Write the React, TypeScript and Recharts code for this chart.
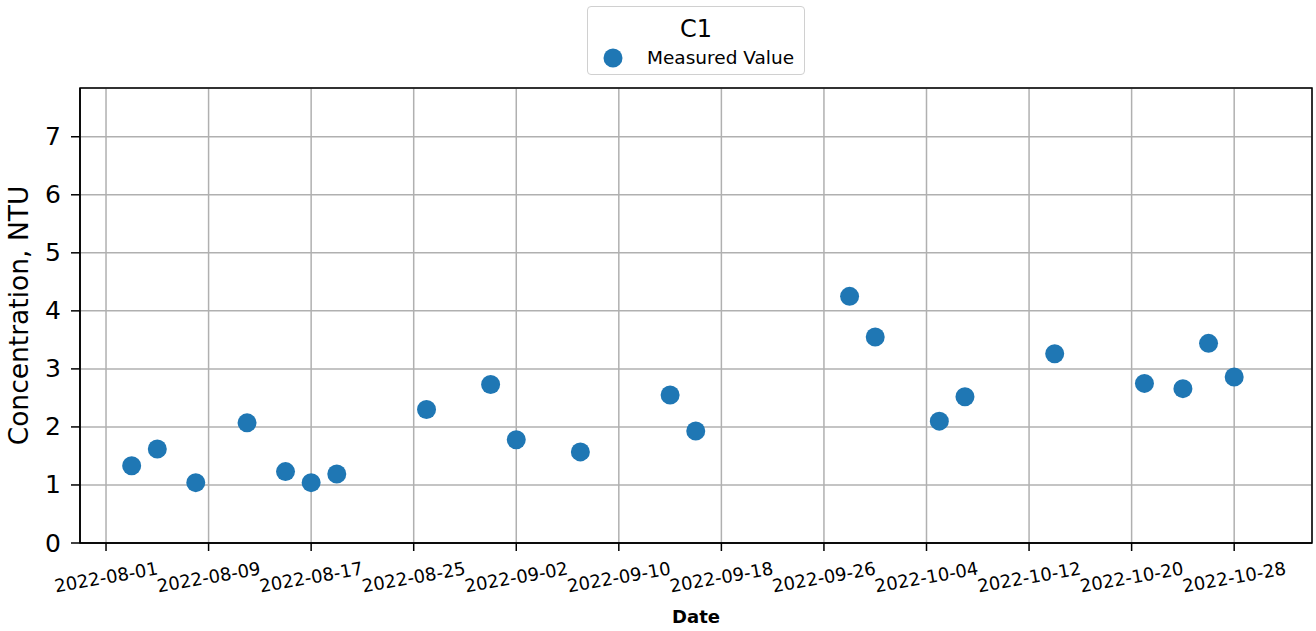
import React from 'react';
import {
  ScatterChart,
  Scatter,
  XAxis,
  YAxis,
  CartesianGrid,
  ReferenceArea,
} from 'recharts';

const sampleDates = [
  '2022-08-03', '2022-08-05', '2022-08-08', '2022-08-12', '2022-08-15', '2022-08-17',
  '2022-08-19', '2022-08-26', '2022-08-31', '2022-09-02', '2022-09-07', '2022-09-14',
  '2022-09-16', '2022-09-28', '2022-09-30', '2022-10-05', '2022-10-07', '2022-10-14',
  '2022-10-21', '2022-10-24', '2022-10-26', '2022-10-28',
];

const measuredValues = [
  1.33, 1.62, 1.04, 2.07, 1.23, 1.04,
  1.19, 2.30, 2.73, 1.78, 1.57, 2.55,
  1.93, 4.25, 3.55, 2.10, 2.52, 3.26,
  2.75, 2.66, 3.44, 2.86,
];

const xTickLabels = [
  '2022-08-01', '2022-08-09', '2022-08-17', '2022-08-25', '2022-09-02', '2022-09-10',
  '2022-09-18', '2022-09-26', '2022-10-04', '2022-10-12', '2022-10-20', '2022-10-28',
];

const yTicks = [0, 1, 2, 3, 4, 5, 6, 7];

const DAY = 86400000;
const toMs = (s: string) => Date.parse(s + 'T00:00:00Z');
const fmt = (ms: number) => new Date(ms).toISOString().slice(0, 10);

const data = sampleDates.map((d, i) => ({ t: toMs(d), v: measuredValues[i] }));
const xTicks = xTickLabels.map(toMs);
const xDomain = [toMs('2022-08-01') - 2.03 * DAY, toMs('2022-08-01') + 94.07 * DAY];
const yDomain = [0, 7.84];

const FONT = '"DejaVu Sans", sans-serif';
const BLUE = '#1f77b4';

const XTick = (props: any) => {
  const { x, y, payload } = props;
  const cx = x;
  const cy = y + 24;
  return (
    <text
      x={cx}
      y={cy}
      textAnchor="middle"
      dominantBaseline="central"
      fontSize={18}
      fontFamily={FONT}
      fill="#000"
      transform={`rotate(-10, ${cx}, ${cy})`}
    >
      {fmt(payload.value)}
    </text>
  );
};

const YTick = (props: any) => {
  const { x, y, payload } = props;
  return (
    <text x={x} y={y} textAnchor="end" dominantBaseline="central" fontSize={25} fontFamily={FONT} fill="#000">
      {payload.value}
    </text>
  );
};

const YLabel = (props: any) => {
  const { viewBox } = props;
  const cy = viewBox.y + viewBox.height / 2;
  return (
    <text
      x={18}
      y={cy}
      textAnchor="middle"
      dominantBaseline="central"
      fontSize={26.5}
      fontFamily={FONT}
      fill="#000"
      transform={`rotate(-90, 18, ${cy})`}
    >
      Concentration, NTU
    </text>
  );
};

const LegendBox = () => (
  <div
    style={{
      position: 'absolute',
      left: 587,
      top: 6,
      width: 218,
      height: 69,
      border: '1.5px solid #d0d0d0',
      borderRadius: 4,
      boxSizing: 'border-box',
      fontFamily: FONT,
      background: '#fff',
    }}
  >
    <div style={{ position: 'absolute', top: 7, left: 0, width: '100%', textAlign: 'center', fontSize: 24, lineHeight: '30px' }}>C1</div>
    <svg width={22} height={22} style={{ position: 'absolute', left: 14, top: 40 }}>
      <circle cx={11} cy={11} r={9.5} fill={BLUE} />
    </svg>
    <div style={{ position: 'absolute', left: 59, top: 39, fontSize: 18.5, lineHeight: '24px' }}>Measured Value</div>
  </div>
);

export default function App() {
  return (
    <div style={{ position: 'absolute', left: 0, top: 0, width: 1316, height: 631, background: '#fff' }}>
      <ScatterChart width={1316} height={631} margin={{ top: 88, right: 4, bottom: 0, left: 0 }}>
        <CartesianGrid xAxisId="bottom" yAxisId="left" stroke="#b0b0b0" strokeWidth={1.5} />
        <XAxis
          xAxisId="bottom"
          dataKey="t"
          type="number"
          domain={xDomain}
          ticks={xTicks}
          interval={0}
          allowDataOverflow
          height={88}
          tick={<XTick />}
          tickSize={8}
          tickLine={{ stroke: '#000', strokeWidth: 1.5 }}
          axisLine={{ stroke: '#000', strokeWidth: 1.5 }}
          label={{ value: 'Date', position: 'insideBottom', offset: 8, fontSize: 18, fontWeight: 'bold', fontFamily: FONT, fill: '#000' }}
        />
        <YAxis
          yAxisId="left"
          dataKey="v"
          type="number"
          domain={yDomain}
          ticks={yTicks}
          interval={0}
          allowDataOverflow
          width={80}
          tick={<YTick />}
          tickSize={9}
          tickMargin={10}
          tickLine={{ stroke: '#000', strokeWidth: 1.5 }}
          axisLine={{ stroke: '#000', strokeWidth: 1.5 }}
          label={<YLabel />}
        />
        <ReferenceArea
          xAxisId="bottom"
          yAxisId="left"
          x1={xDomain[0]}
          x2={xDomain[1]}
          y1={yDomain[0]}
          y2={yDomain[1]}
          fill="none"
          fillOpacity={0}
          stroke="#000"
          strokeWidth={1.5}
          ifOverflow="visible"
        />
        <Scatter
          name="Measured Value"
          data={data}
          xAxisId="bottom"
          yAxisId="left"
          fill={BLUE}
          isAnimationActive={false}
          shape={(p: any) => <circle cx={p.cx} cy={p.cy} r={9.5} fill={BLUE} />}
        />
      </ScatterChart>
      <LegendBox />
    </div>
  );
}
